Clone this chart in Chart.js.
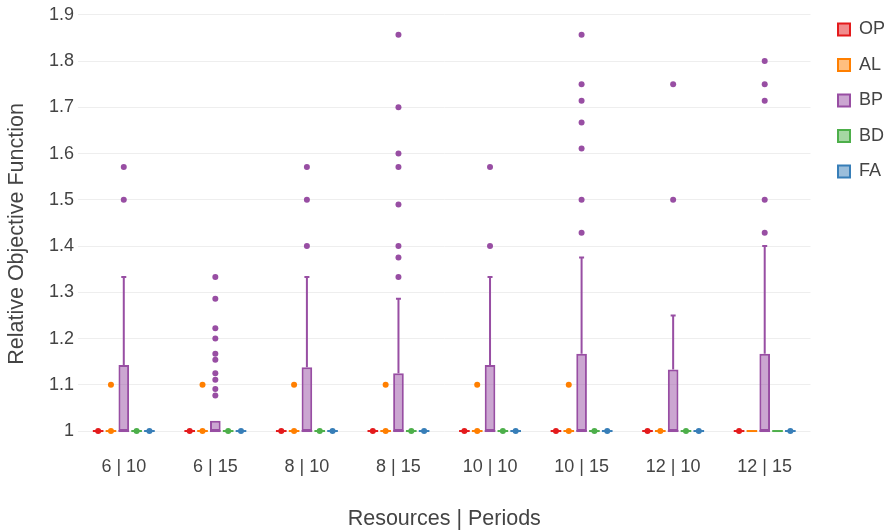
<!DOCTYPE html>
<html>
<head>
<meta charset="utf-8">
<script src="https://cdn.jsdelivr.net/npm/chart.js@4.4.1/dist/chart.umd.min.js"></script>
<style>
  html, body { margin: 0; padding: 0; background: #fff; }
  #wrap { width: 894px; height: 532px; }
</style>
</head>
<body>
<div id="wrap"><canvas id="chart" width="894" height="532"></canvas></div>
<script>
const categories = ['6 | 10', '6 | 15', '8 | 10', '8 | 15', '10 | 10', '10 | 15', '12 | 10', '12 | 15'];
const seriesNames = ['OP', 'AL', 'BP', 'BD', 'FA'];
const seriesColors = ['#e41a1c', '#ff7f00', '#984ea3', '#4daf4a', '#377eb8'];
const seriesFills = ['rgba(228,26,28,0.5)', 'rgba(255,127,0,0.5)', 'rgba(152,78,163,0.5)', 'rgba(77,175,74,0.5)', 'rgba(55,126,184,0.5)'];
const yTicks = [1, 1.1, 1.2, 1.3, 1.4, 1.5, 1.6, 1.7, 1.8, 1.9];

// flat boxes (OP, AL, BD, FA): every quartile sits at 1
const flatQ1 = [1, 1, 1, 1, 1, 1, 1, 1];
const flatQ3 = [1, 1, 1, 1, 1, 1, 1, 1];

// BP box stats
const bpQ1 = [1, 1, 1, 1, 1, 1, 1, 1];
const bpMedian = [1, 1, 1, 1, 1, 1, 1, 1];
const bpQ3 = [1.143, 1.022, 1.138, 1.125, 1.143, 1.167, 1.133, 1.167];
const bpUpper = [1.333, 1.022, 1.333, 1.286, 1.333, 1.375, 1.25, 1.4];

// outlier points per category
const opOutliers = [[1], [1], [1], [1], [1], [1], [1], [1]];
const alOutliers = [[1, 1.1], [1, 1.1], [1, 1.1], [1, 1.1], [1, 1.1], [1, 1.1], [1], []];
const bpOutliers = [
  [1.5, 1.571],
  [1.077, 1.091, 1.111, 1.125, 1.154, 1.167, 1.2, 1.222, 1.286, 1.333],
  [1.4, 1.5, 1.571],
  [1.333, 1.375, 1.4, 1.49, 1.571, 1.6, 1.7, 1.857],
  [1.4, 1.571],
  [1.429, 1.5, 1.611, 1.667, 1.714, 1.75, 1.857],
  [1.5, 1.75],
  [1.429, 1.5, 1.714, 1.75, 1.8]
];
const bdOutliers = [[1], [1], [1], [1], [1], [1], [1], []];
const faOutliers = [[1], [1], [1], [1], [1], [1], [1], [1]];

const boxLow = [flatQ1, flatQ1, bpQ1, flatQ1, flatQ1];
const boxHigh = [flatQ3, flatQ3, bpQ3, flatQ3, flatQ3];
const boxMedian = [flatQ1, flatQ1, bpMedian, flatQ1, flatQ1];
const boxUpper = [flatQ3, flatQ3, bpUpper, flatQ3, flatQ3];
const boxOutliers = [opOutliers, alOutliers, bpOutliers, bdOutliers, faOutliers];

const FONT = 'Liberation Sans, Arial, sans-serif';

const datasets = seriesNames.map((name, i) => ({
  label: name,
  data: boxLow[i].map((lo, j) => [lo, boxHigh[i][j]]),
  backgroundColor: seriesFills[i],
  borderColor: seriesColors[i],
  borderWidth: 2,
  borderSkipped: false,
  barPercentage: 0.83,
  categoryPercentage: 0.7
}));

// whiskers, medians and outlier dots, placed on the bars Chart.js laid out
const boxExtras = {
  id: 'boxExtras',
  afterLayout(chart) {
    // nudge the legend block toward the right edge / top
    chart.legend.left += 10;
    chart.legend.right += 10;
    chart.legend.top -= 11;
    chart.legend.bottom -= 11;
  },
  afterDatasetsDraw(chart) {
    const ctx = chart.ctx;
    const y = chart.scales.y;
    chart.data.datasets.forEach((ds, i) => {
      const meta = chart.getDatasetMeta(i);
      const color = seriesColors[i];
      meta.data.forEach((bar, j) => {
        const x = bar.x;
        const half = bar.width / 2;
        ctx.save();
        ctx.strokeStyle = color;
        ctx.lineWidth = 2;
        // median
        const ym = y.getPixelForValue(boxMedian[i][j]);
        ctx.beginPath();
        ctx.moveTo(x - half, ym);
        ctx.lineTo(x + half, ym);
        ctx.stroke();
        // upper whisker
        const yq3 = y.getPixelForValue(boxHigh[i][j]);
        const yup = y.getPixelForValue(boxUpper[i][j]);
        if (yq3 - yup > 0.5) {
          ctx.beginPath();
          ctx.moveTo(x, yq3);
          ctx.lineTo(x, yup);
          ctx.moveTo(x - 2.5, yup);
          ctx.lineTo(x + 2.5, yup);
          ctx.stroke();
        }
        // outliers
        ctx.fillStyle = color;
        boxOutliers[i][j].forEach(v => {
          ctx.beginPath();
          ctx.arc(x, y.getPixelForValue(v), 3, 0, Math.PI * 2);
          ctx.fill();
        });
        ctx.restore();
      });
    });
  }
};

new Chart(document.getElementById('chart'), {
  type: 'bar',
  data: { labels: categories, datasets: datasets },
  plugins: [boxExtras],
  options: {
    responsive: false,
    animation: false,
    layout: { padding: { top: 14, right: 9, bottom: 0, left: 0 } },
    plugins: {
      tooltip: { enabled: false },
      legend: {
        position: 'right',
        align: 'start',
        labels: {
          color: '#444',
          font: { family: FONT, size: 18 },
          boxWidth: 12,
          boxHeight: 12,
          padding: 17.5,
          generateLabels: chart => chart.data.datasets.map((ds, i) => ({
            text: ds.label,
            fillStyle: seriesFills[i],
            strokeStyle: seriesColors[i],
            lineWidth: 2,
            fontColor: '#444',
            datasetIndex: i,
            hidden: false
          }))
        }
      }
    },
    scales: {
      x: {
        grid: { display: false, drawTicks: false },
        border: { display: false },
        ticks: {
          color: '#444',
          padding: 3,
          font: { family: FONT, size: 18 }
        },
        title: {
          display: true,
          text: 'Resources | Periods',
          color: '#444',
          padding: { top: 0, bottom: 0 },
          font: { family: FONT, size: 21.5 }
        },
        afterFit: scale => { scale.height = 79; }
      },
      y: {
        min: 0.9525,
        max: 1.9,
        grid: { color: '#eeeeee', lineWidth: 1, drawTicks: false },
        border: { display: false },
        afterBuildTicks: axis => { axis.ticks = yTicks.map(v => ({ value: v })); },
        ticks: {
          color: '#444',
          padding: 4,
          font: { family: FONT, size: 18 },
          callback: v => String(Math.round(v * 10) / 10)
        },
        title: {
          display: true,
          text: 'Relative Objective Function',
          color: '#444',
          padding: { top: 4, bottom: 0 },
          font: { family: FONT, size: 21.5 }
        },
        afterFit: scale => { scale.width = 78; }
      }
    }
  }
});
</script>
</body>
</html>
